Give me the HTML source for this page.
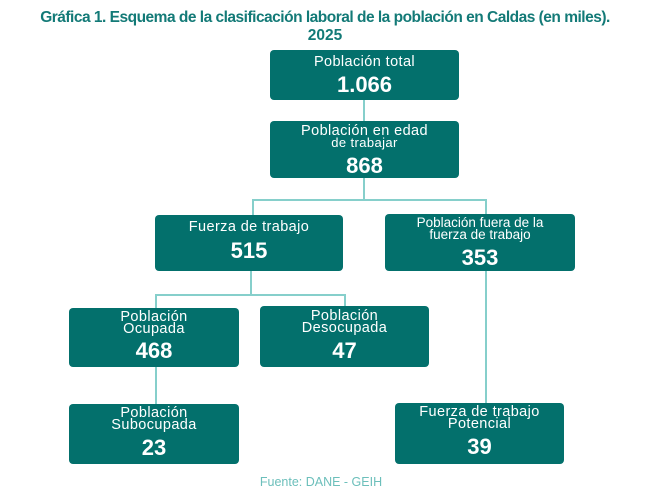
<!DOCTYPE html>
<html><head><meta charset="utf-8"><style>
body{margin:0;width:650px;height:504px;background:#fff;position:relative;font-family:"Liberation Sans",sans-serif;overflow:hidden}
.t{position:absolute;left:0;width:650px;text-align:center;color:#137a77;font-weight:bold;font-size:15.5px}
.b{position:absolute;background:#03706c;border-radius:4px;color:#fff;text-align:center}
.l{font-size:14.5px;line-height:12px;letter-spacing:0.4px}
.n{font-weight:bold;font-size:22px;line-height:22px}
.h{position:absolute;background:#86cfcb;height:2px}
.v{position:absolute;background:#86cfcb;width:2px}
</style></head><body>
<div class="t" style="top:9px;letter-spacing:-0.5px">Gráfica 1. Esquema de la clasificación laboral de la población en Caldas (en miles).</div>
<div class="t" style="top:27px">2025</div>

<div class="v" style="left:363px;top:100px;height:21px"></div>
<div class="v" style="left:363px;top:178px;height:22px"></div>
<div class="h" style="left:252px;top:199px;width:235px"></div>
<div class="v" style="left:252px;top:199px;height:16px"></div>
<div class="v" style="left:485px;top:199px;height:204px"></div>
<div class="v" style="left:250px;top:271px;height:24px"></div>
<div class="h" style="left:155px;top:294px;width:191px"></div>
<div class="v" style="left:155px;top:294px;height:110px"></div>
<div class="v" style="left:344px;top:294px;height:12px"></div>

<div class="b" style="left:270px;top:50px;width:189px;height:50px"><div class="l" style="margin-top:6px">Población total</div><div class="n" style="margin-top:6px">1.066</div></div>
<div class="b" style="left:270px;top:121px;width:189px;height:57px"><div class="l" style="margin-top:4px">Población en edad</div><div class="l" style="font-size:13px">de trabajar</div><div class="n" style="margin-top:6px">868</div></div>
<div class="b" style="left:155px;top:215px;width:188px;height:56px"><div class="l" style="margin-top:6px">Fuerza de trabajo</div><div class="n" style="margin-top:7px">515</div></div>
<div class="b" style="left:385px;top:214px;width:190px;height:57px"><div class="l" style="margin-top:3px;font-size:13.5px;letter-spacing:0">Población fuera de la</div><div class="l" style="font-size:13.5px;letter-spacing:0">fuerza de trabajo</div><div class="n" style="margin-top:6px">353</div></div>
<div class="b" style="left:69px;top:308px;width:170px;height:59px"><div class="l" style="margin-top:3px">Población</div><div class="l">Ocupada</div><div class="n" style="margin-top:5px">468</div></div>
<div class="b" style="left:260px;top:306px;width:169px;height:61px"><div class="l" style="margin-top:4px">Población</div><div class="l">Desocupada</div><div class="n" style="margin-top:6px">47</div></div>
<div class="b" style="left:69px;top:404px;width:170px;height:60px"><div class="l" style="margin-top:3px">Población</div><div class="l">Subocupada</div><div class="n" style="margin-top:6px">23</div></div>
<div class="b" style="left:395px;top:403px;width:169px;height:61px"><div class="l" style="margin-top:3px">Fuerza de trabajo</div><div class="l">Potencial</div><div class="n" style="margin-top:6px">39</div></div>

<div style="position:absolute;left:250px;top:475px;width:142px;text-align:center;color:#6cbfbb;font-size:12.5px">Fuente: DANE - GEIH</div>
</body></html>
